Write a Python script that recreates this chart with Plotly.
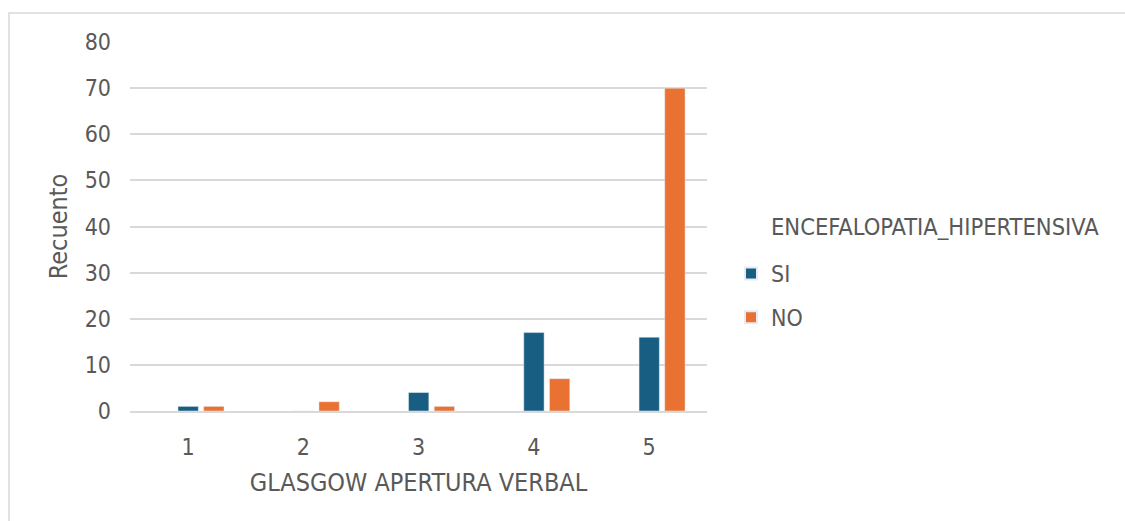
import plotly.graph_objects as go

categories = ["1", "2", "3", "4", "5"]
si_values = [1, 0, 4, 17, 16]
no_values = [1, 2, 1, 7, 70]
y_ticks = [0, 10, 20, 30, 40, 50, 60, 70, 80]
legend_title = "ENCEFALOPATIA_HIPERTENSIVA"

FONT = "DejaVu Sans Condensed, DejaVu Sans, sans-serif"
TXT = "#595959"
GRID = "#D9D9D9"
BLUE = "#175E82"
ORANGE = "#E97132"

fig = go.Figure()
fig.add_trace(go.Bar(x=categories, y=si_values, name="SI",
                     marker=dict(color=BLUE), legendgroup="si"))
fig.add_trace(go.Bar(x=categories, y=no_values, name="NO",
                     marker=dict(color=ORANGE), legendgroup="no"))

fig.update_layout(
    width=1125, height=521,
    margin=dict(l=130, r=418, t=42, b=110),
    paper_bgcolor="white", plot_bgcolor="white",
    font=dict(family=FONT, color=TXT, size=23),
    barmode="group", bargap=0.554, bargroupgap=0.21,
    showlegend=True,
    legend=dict(
        x=(731 - 130) / 577, xanchor="left", y=(411 - 252) / 369, yanchor="top",
        font=dict(size=23, color=TXT),
        tracegroupgap=11, itemsizing="constant",
    ),
    xaxis=dict(
        title=dict(text="GLASGOW APERTURA VERBAL", font=dict(size=25, color=TXT), standoff=15),
        type="category", range=[-0.616, 4.39],
        showgrid=False, showline=True, linecolor=GRID, linewidth=2,
        ticks="", tickfont=dict(size=23, color=TXT),
        ticklabelstandoff=14, ticklabelshift=-13,
    ),
    yaxis=dict(
        title=dict(text="Recuento", font=dict(size=25, color=TXT), standoff=9),
        range=[0, 80], tickvals=y_ticks, showgrid=True, gridcolor=GRID, gridwidth=1.5,
        zeroline=False, showline=False, ticks="", tickfont=dict(size=23, color=TXT),
        ticklabelstandoff=18,
    ),
    annotations=[dict(text=legend_title, xref="paper", yref="paper",
                      x=(769 - 130) / 577, xanchor="left",
                      y=(411 - 227) / 369, yanchor="middle",
                      showarrow=False, font=dict(size=23.5, color=TXT))],
    shapes=[dict(type="rect", xref="paper", yref="paper",
                 x0=(9 - 130) / 577, x1=(1140 - 130) / 577,
                 y0=(411 - 540) / 369, y1=(411 - 13) / 369,
                 line=dict(color=GRID, width=1.5), fillcolor="rgba(0,0,0,0)",
                 layer="below")],
)

fig.write_html("out.html")
